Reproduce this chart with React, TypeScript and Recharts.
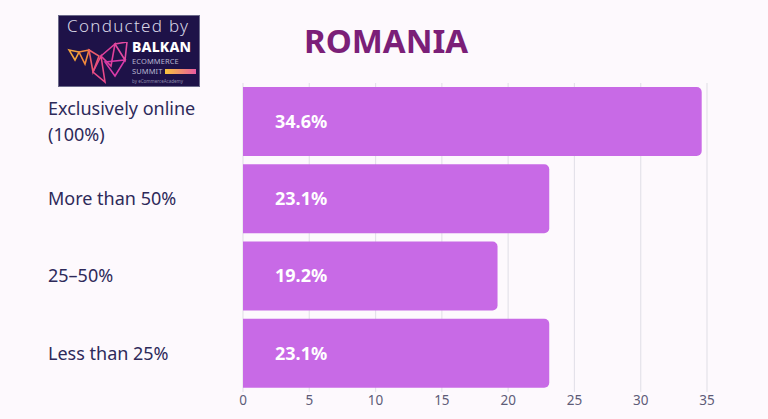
import React from "react";
import { Bar, BarChart, CartesianGrid, LabelList, XAxis, YAxis } from "recharts";

const categories = ["Exclusively online (100%)", "More than 50%", "25–50%", "Less than 25%"];
const shares = [34.6, 23.1, 19.2, 23.1];
const xTicks = [0, 5, 10, 15, 20, 25, 30, 35];

const BAR_COLOR = "#c86ae6";
const LABEL_COLOR = "#2e2a5a";
const FONT = "'Noto Sans', sans-serif";

const rows = categories.map((c, i) => ({ category: c, share: shares[i] }));

function CategoryTick(props: any) {
  const { y, payload } = props;
  const text: string = payload.value;
  const idx = text.indexOf(" (");
  const lines = idx > 0 ? [text.slice(0, idx), text.slice(idx + 1)] : [text];
  const start = -((lines.length - 1) * 26) / 2;
  return (
    <text x={48} y={y} fill={LABEL_COLOR} fontSize={18} fontFamily={FONT} textAnchor="start">
      {lines.map((l, i) => (
        <tspan key={i} x={48} y={y + start + i * 26} dy="0.35em">
          {l}
        </tspan>
      ))}
    </text>
  );
}

function ValueLabel(props: any) {
  const { x, y, height, value } = props;
  return (
    <text
      x={x + 32}
      y={y + height / 2}
      dy="0.35em"
      fill="#ffffff"
      fontSize={18}
      fontWeight={700}
      fontFamily={FONT}
    >
      {`${value}%`}
    </text>
  );
}

const small = { position: "absolute" as const, lineHeight: 1, whiteSpace: "nowrap" as const };

function Logo() {
  return (
    <div
      style={{
        position: "absolute",
        left: 58,
        top: 15,
        width: 142,
        height: 72,
        background: "#1e1248",
        border: "1px solid #6b6a8a",
        boxSizing: "border-box",
        fontFamily: FONT,
        overflow: "hidden",
      }}
    >
      <div style={{ ...small, left: 8, top: 1, color: "#d8d6e6", fontSize: 17, fontWeight: 300, letterSpacing: 1.3 }}>
        Conducted by
      </div>
      <svg width={70} height={45} style={{ position: "absolute", left: 8, top: 26 }}>
        <g fill="none" strokeWidth={1.6}>
          <polygon points="2,8 12,10 8,18" stroke="#f2a23c" />
          <polygon points="12,10 22,8 18,22" stroke="#f28a3c" />
          <polygon points="22,8 32,14 26,30" stroke="#ec5a6a" />
          <polygon points="26,30 34,14 38,40" stroke="#e84a8a" />
          <polygon points="34,14 48,2 44,24" stroke="#e0409a" />
          <polygon points="38,20 58,18 48,34" stroke="#d93aa8" />
          <polygon points="48,2 60,0 58,18" stroke="#e34aa0" />
        </g>
      </svg>
      <div style={{ ...small, left: 73, top: 24, color: "#ffffff", fontSize: 14, fontWeight: 800, letterSpacing: 0.2 }}>
        BALKAN
      </div>
      <div style={{ ...small, left: 73, top: 42, color: "#b8b6d0", fontSize: 7.5, letterSpacing: 0.1 }}>
        ECOMMERCE
      </div>
      <div style={{ ...small, left: 73, top: 52, color: "#b8b6d0", fontSize: 7.5, letterSpacing: 0.1 }}>
        SUMMIT
      </div>
      <div
        style={{
          position: "absolute",
          left: 106,
          top: 53,
          width: 31,
          height: 5,
          background: "linear-gradient(90deg, #f7c33c, #e95aa0)",
        }}
      />
      <div style={{ ...small, left: 73, top: 63, color: "#8c8aa8", fontSize: 4.5 }}>by eCommerceAcademy</div>
    </div>
  );
}

export default function App() {
  return (
    <div
      style={{
        position: "absolute",
        left: 0,
        top: 0,
        width: 768,
        height: 419,
        background: "#fdf9fd",
        overflow: "hidden",
      }}
    >
      <Logo />
      <div
        style={{
          position: "absolute",
          left: 304,
          top: 21,
          color: "#7b1f78",
          fontFamily: FONT,
          fontSize: 33,
          fontWeight: 700,
          lineHeight: 1.2,
        }}
      >
        ROMANIA
      </div>
      <div style={{ position: "absolute", left: 0, top: 0 }}>
        <BarChart
          width={768}
          height={419}
          data={rows}
          layout="vertical"
          margin={{ top: 83, right: 61, bottom: 0, left: 0 }}
          barCategoryGap={4}
        >
          <CartesianGrid horizontal={false} stroke="#e4e2ea" strokeWidth={1.2} />
          <XAxis
            type="number"
            domain={[0, 35]}
            ticks={xTicks}
            axisLine={false}
            tickLine={false}
            height={27}
            tick={{ fill: "#5e5c78", fontSize: 13.5, fontFamily: FONT }}
            tickMargin={-3}
          />
          <YAxis
            type="category"
            dataKey="category"
            width={243}
            axisLine={false}
            tickLine={false}
            tick={<CategoryTick />}
          />
          <Bar dataKey="share" fill={BAR_COLOR} radius={[0, 5, 5, 0]} isAnimationActive={false}>
            <LabelList dataKey="share" content={<ValueLabel />} />
          </Bar>
        </BarChart>
      </div>
    </div>
  );
}
